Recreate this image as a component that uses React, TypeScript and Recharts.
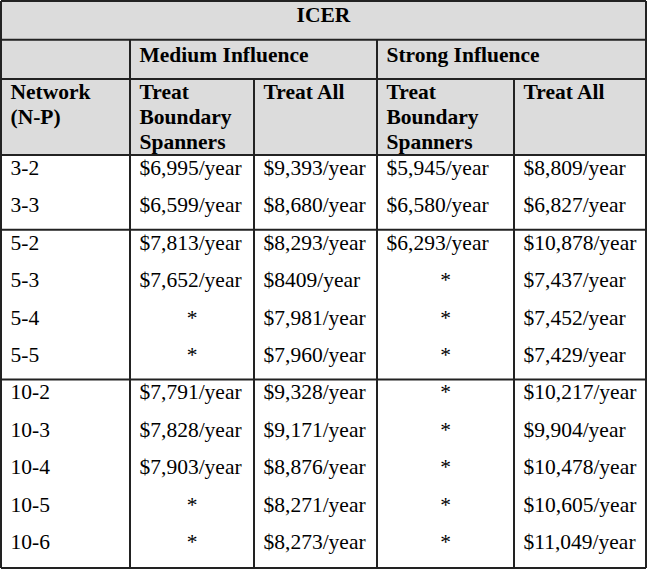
import { ReferenceArea, ReferenceLine, Scatter, ScatterChart, XAxis, YAxis } from 'recharts';

const title = 'ICER';
const influenceLabels = ['Medium Influence', 'Strong Influence'];
const columnHeaders = [
  ['Network', '(N-P)'],
  ['Treat', 'Boundary', 'Spanners'],
  ['Treat All'],
  ['Treat', 'Boundary', 'Spanners'],
  ['Treat All'],
];
const networks = ['3-2', '3-3', '5-2', '5-3', '5-4', '5-5', '10-2', '10-3', '10-4', '10-5', '10-6'];
const mediumBoundary = ['$6,995/year', '$6,599/year', '$7,813/year', '$7,652/year', '*', '*', '$7,791/year', '$7,828/year', '$7,903/year', '*', '*'];
const mediumAll = ['$9,393/year', '$8,680/year', '$8,293/year', '$8409/year', '$7,981/year', '$7,960/year', '$9,328/year', '$9,171/year', '$8,876/year', '$8,271/year', '$8,273/year'];
const strongBoundary = ['$5,945/year', '$6,580/year', '$6,293/year', '*', '*', '*', '*', '*', '*', '*', '*'];
const strongAll = ['$8,809/year', '$6,827/year', '$10,878/year', '$7,437/year', '$7,452/year', '$7,429/year', '$10,217/year', '$9,904/year', '$10,478/year', '$10,605/year', '$11,049/year'];
// rows after which a group rule is drawn
const groupBreaks = [2, 6];

// layout (x in px, y in row units)
const W = 650;
const H = 571;
const colEdges = [1, 130, 254, 377, 514, 646];
const PAD = 9.5;
const Y_TOP = -4.12;
const Y_TITLE = -3.08;
const Y_GROUP = -2.03;
const Y_HEAD = 0;
const Y_BOTTOM = 11.04;
const LINE = '#222';
const FONT = '"Liberation Serif", "Times New Roman", serif';

type Cell = { x: number; y: number; label: string; anchor: string; bold?: boolean };

const cells: Cell[] = [];
cells.push({ x: (colEdges[0] + colEdges[5]) / 2, y: -3.556, label: title, anchor: 'middle', bold: true });
cells.push({ x: colEdges[1] + PAD, y: -2.487, label: influenceLabels[0], anchor: 'start', bold: true });
cells.push({ x: colEdges[3] + PAD, y: -2.487, label: influenceLabels[1], anchor: 'start', bold: true });
columnHeaders.forEach((lines, c) => {
  lines.forEach((label, k) => {
    cells.push({ x: colEdges[c] + PAD, y: -1.497 + k * 0.668, label, anchor: 'start', bold: true });
  });
});
[networks, mediumBoundary, mediumAll, strongBoundary, strongAll].forEach((col, c) => {
  col.forEach((label, i) => {
    const star = label === '*';
    cells.push({
      x: star ? (colEdges[c] + colEdges[c + 1]) / 2 : colEdges[c] + PAD,
      y: i + 0.535,
      label,
      anchor: star ? 'middle' : 'start',
    });
  });
});

const CellText = (props: any) => {
  const { cx, cy, payload } = props;
  return (
    <text x={cx} y={cy} textAnchor={payload.anchor} fontFamily={FONT} fontSize={21.5}
      fontWeight={payload.bold ? 700 : 400} fill="#000">
      {payload.label}
    </text>
  );
};

const hLines = [
  { y: Y_TOP, x1: colEdges[0], x2: colEdges[5] },
  { y: Y_TITLE, x1: colEdges[0], x2: colEdges[5] },
  { y: Y_GROUP, x1: colEdges[0], x2: colEdges[5] },
  { y: Y_HEAD, x1: colEdges[0], x2: colEdges[5] },
  ...groupBreaks.map((b) => ({ y: b, x1: colEdges[0], x2: colEdges[5] })),
  { y: Y_BOTTOM, x1: colEdges[0], x2: colEdges[5] },
];
const vLines = [
  { x: colEdges[0], y1: Y_TOP, y2: Y_BOTTOM },
  { x: colEdges[1], y1: Y_TITLE, y2: Y_BOTTOM },
  { x: colEdges[2], y1: Y_GROUP, y2: Y_BOTTOM },
  { x: colEdges[3], y1: Y_TITLE, y2: Y_BOTTOM },
  { x: colEdges[4], y1: Y_GROUP, y2: Y_BOTTOM },
  { x: colEdges[5], y1: Y_TOP, y2: Y_BOTTOM },
];

export default function App() {
  return (
    <div style={{ position: 'absolute', left: 0, top: 0, width: W, height: H, background: '#fff' }}>
      <ScatterChart width={W} height={H} margin={{ top: 0, right: 0, bottom: 0, left: 0 }}>
        <XAxis type="number" dataKey="x" domain={[0, W]} hide allowDataOverflow />
        <YAxis type="number" dataKey="y" domain={[-4.144, 11.123]} reversed hide allowDataOverflow />
        <ReferenceArea x1={colEdges[0]} x2={colEdges[5]} y1={Y_TOP} y2={Y_HEAD} fill="#dcdcdc" fillOpacity={1} stroke="none" />
        {hLines.map((l, i) => (
          <ReferenceLine key={`h${i}`} segment={[{ x: l.x1, y: l.y }, { x: l.x2, y: l.y }]} stroke={LINE} strokeWidth={2} />
        ))}
        {vLines.map((l, i) => (
          <ReferenceLine key={`v${i}`} segment={[{ x: l.x, y: l.y1 }, { x: l.x, y: l.y2 }]} stroke={LINE} strokeWidth={2} />
        ))}
        <Scatter data={cells} shape={<CellText />} isAnimationActive={false} />
      </ScatterChart>
    </div>
  );
}
